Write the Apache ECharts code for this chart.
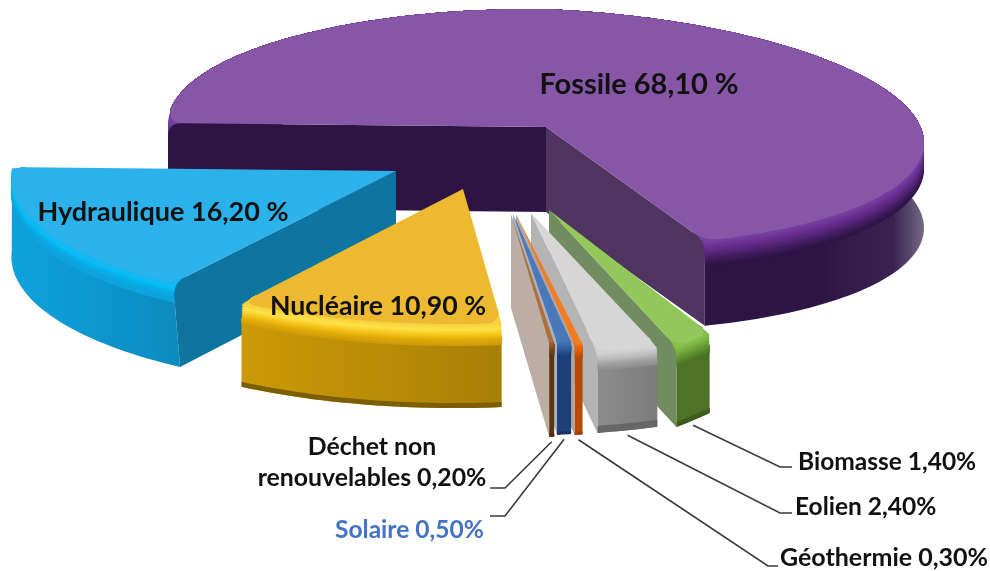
<!DOCTYPE html>
<html><head><meta charset="utf-8">
<style>html,body{margin:0;padding:0;background:#fff}#c{width:990px;height:571px}</style>
<script src="https://cdn.jsdelivr.net/npm/echarts@6/dist/echarts.min.js"></script>
</head><body><div id="c"></div>
<script>
// ---- data (pie order, clockwise from 9 o'clock) ----
var categories = ['Fossile','Biomasse','Eolien','Géothermie','Solaire','Déchet non renouvelables','Nucléaire','Hydraulique'];
var values = [68.1, 1.4, 2.4, 0.3, 0.5, 0.2, 10.9, 16.2];
var firstAngle = 270;

// ---- 3D look: each slice's exploded projection ----
var drawOrder = [0, 7, 6, 1, 2, 3, 4, 5];
var geometry = [
 {ax:546,ay:127,rx:378,ry:118,sx:0,  shL:4, shR:16, d:85,kx:0,    r:14},
 {ax:549,ay:210,rx:404,ry:181,sx:-10,shL:0, shR:-98,d:80,kx:0,    r:13},
 {ax:531,ay:213,rx:409,ry:143,sx:-13,shL:0, shR:-2, d:80,kx:0,    r:14},
 {ax:516,ay:214,rx:430,ry:133,sx:-17,shL:0, shR:0,  d:90,kx:0,    r:3},
 {ax:513,ay:214,rx:450,ry:130,sx:-21,shL:0, shR:0,  d:92,kx:0,    r:4},
 {ax:511,ay:214,rx:403,ry:130,sx:-15,shL:0, shR:0,  d:94,kx:0,    r:2},
 {ax:463,ay:189,rx:399,ry:135,sx:-14,shL:2, shR:2,  d:84,kx:0,    r:16},
 {ax:396,ay:171,rx:384,ry:134,sx:-25,shL:4, shR:4,  d:84,kx:.0625,r:14}
];
var looks = [
 {top:'#8856a7',band:['#7440a0','#6b2e92','#56257a','#3f1c5c','#2e1445'],bh:26,wall:['#2e1445','#2e1445','#2e1445','#3a2350','#766a88'],stops:[0,.5,.86,.96,1],radS:'#2e1445',radE:'#4f3560'},
 {top:'#92c85a',band:['#86c04c','#74aa3c','#5f8f30','#4d7228'],bh:20,wall:['#4d7228','#4d7228'],radE:'#718c5f',foot:'#3d5c1e',fh:5},
 {top:'#d6d6d6',band:['#d2d2d2','#bdbdbd','#a0a0a0','#8d8d8d'],bh:18,wall:['#8d8d8d','#7c7c7c'],radE:'#b4b4b4',foot:'#666',fh:7},
 {top:'#f47b20',band:['#ec6c10','#d85c08','#b84a04'],bh:14,wall:['#b84a04','#b84a04'],radE:'#a8a8a8',foot:'#a04004',fh:3},
 {top:'#4a78b8',band:['#4472b0','#2f5a9c','#1e4078'],bh:14,wall:['#1e4078','#1e4078'],radE:'#a8b4c4',foot:'#18345f',fh:3},
 {top:'#b06e38',band:['#9c5c28','#7c4418','#5e340e'],bh:14,wall:['#5e340e','#5e340e'],radE:'#bcaea4',foot:'#4c2a0a',fh:3},
 {top:'#ecb931',band:['#f7d23e','#fde24a','#f6c41a','#e0aa08','#cc9a08'],bh:22,wall:['#cc9a08','#a87f06'],foot:'#7c5e04',fh:5},
 {top:'#2cb2ea',band:['#1cb4ee','#08bdf8','#08aee8','#0ba5e0','#0fa2da'],bh:20,wall:['#0fa2da','#0c94cc','#0c8abb'],stops:[0,.6,1],radS:'#0e75a0'}
];
var labelLayout = [
 {lines:['Fossile 68,10 %'],x:639,y:85,size:29,align:'center'},
 {lines:['Biomasse 1,40%'],x:798,y:462,size:24.5,align:'left',elbow:[780,467],end:[792,467]},
 {lines:['Eolien 2,40%'],x:795,y:507,size:24.5,align:'left',elbow:[780,513],end:[792,513]},
 {lines:['Géothermie 0,30%'],x:780,y:558,size:25,align:'left',elbow:[768,566],end:[778,566]},
 {lines:['Solaire 0,50%'],x:484,y:530,size:24.6,align:'right',color:'#4472c4',elbow:[505,516],end:[490,516]},
 {lines:['Déchet non','renouvelables 0,20%'],x:372,y:478,size:24.8,align:'center',elbow:[505,488],end:[490,488]},
 {lines:['Nucléaire 10,90 %'],x:378,y:306,size:26.7,align:'center'},
 {lines:['Hydraulique 16,20 %'],x:163,y:212,size:27,align:'center'}
];

var total = values.reduce(function(a,b){return a+b;},0);
var spans = [], acc = firstAngle;
values.forEach(function(v){ var e = acc + v/total*360; spans.push([acc,e]); acc = e; });

function P(g,deg){
  var t = deg*Math.PI/180, u = Math.sin(t), v = -Math.cos(t);
  return [g.ax + g.rx*u + g.sx*v, g.ay + g.ry*v + (u<0?g.shL:g.shR)*u];
}
function off(g,p,y){
  return [p[0] + g.kx*(p[1]-g.ay)*y/g.d, p[1]+y];
}
function dist(a,b){return Math.hypot(a[0]-b[0],a[1]-b[1]);}
function lerp(a,b,t){return [a[0]+(b[0]-a[0])*t,a[1]+(b[1]-a[1])*t];}
function quad(a,c,b,n){var o=[];for(var i=0;i<=n;i++){var t=i/n;o.push(lerp(lerp(a,c,t),lerp(c,b,t),t));}return o;}

function sample(i){
  var g = geometry[i], s = spans[i], n = Math.max(4,Math.ceil((s[1]-s[0])/1.5)), rim=[];
  for(var k=0;k<=n;k++) rim.push(P(g,s[0]+(s[1]-s[0])*k/n));
  var len=0; for(k=1;k<rim.length;k++) len+=dist(rim[k],rim[k-1]);
  var r=Math.min(g.r,len*.42), apex=[g.ax,g.ay];
  function walk(list){ var acc=0; for(var j=1;j<list.length;j++){var d=dist(list[j],list[j-1]); if(acc+d>=r) return {p:lerp(list[j-1],list[j],(r-acc)/d),idx:j}; acc+=d;} return {p:list[list.length-1],idx:list.length-1}; }
  var w0=walk(rim), w1=walk(rim.slice().reverse());
  var mid=rim.slice(w0.idx,rim.length-w1.idx);
  var eS=lerp(rim[0],apex,r/dist(rim[0],apex)), eE=lerp(rim[n],apex,r/dist(rim[n],apex));
  var cS=quad(eS,rim[0],w0.p,6), cE=quad(w1.p,rim[n],eE,6);
  return {g:g,look:looks[i],span:s,apex:apex,sharp:rim,rim:cS.concat(mid,cE),eS:eS,eE:eE,r:r};
}
function poly(points,fill){return {type:'polygon',shape:{points:points},style:{fill:fill,stroke:null},silent:true};}
function strip(S,y1){
  var g=S.g, sh=S.sharp, h=Math.min(S.r,y1);
  return S.rim.concat([off(g,sh[sh.length-1],h)],
    sh.map(function(p){return off(g,p,y1);}).reverse(),
    [off(g,sh[0],h)]);
}
function foot(S,y0,y1){
  var g=S.g, a=S.sharp.map(function(p){return off(g,p,y0);}), b=S.sharp.map(function(p){return off(g,p,y1);}).reverse();
  return a.concat(b);
}
function radial(S,edge,corner){
  var g=S.g, low=off(g,corner,S.r), curve=quad(edge,corner,low,6);
  return [S.apex].concat(curve,[off(g,corner,g.d),off(g,S.apex,g.d)]);
}
function renderSlice(params,api){
  var i=api.value(0), S=sample(i), g=S.g, L=S.look, ch=[], sh=S.sharp;
  var st=L.stops||L.wall.map(function(_,k){return L.wall.length>1?k/(L.wall.length-1):0;});
  ch.push(poly(strip(S,g.d),{type:'linear',x:0,y:0,x2:1,y2:0,colorStops:L.wall.map(function(c,k){return {offset:st[k],color:c};})}));
  if(L.foot) ch.push(poly(foot(S,g.d-L.fh,g.d),L.foot));
  var N=14;
  for(var k=N;k>=1;k--) ch.push(poly(strip(S,L.bh*k/N),echarts.color.lerp((k-1)/(N-1),L.band)));
  var a0=((S.span[0]%360)+360)%360, a1=((S.span[1]%360)+360)%360;
  if(a0>=180 && L.radS) ch.push(poly(radial(S,S.eS,sh[0]),L.radS));
  if(a1<=180 && L.radE) ch.push(poly(radial(S,S.eE,sh[sh.length-1]),L.radE));
  ch.push(poly([S.apex].concat(S.rim),L.top));
  return {type:'group',children:ch};
}
function renderLabel(params,api){
  var i=api.value(0), g=geometry[i], L=labelLayout[i], ch=[], mid=(spans[i][0]+spans[i][1])/2;
  L.lines.forEach(function(t,k){
    ch.push({type:'text',silent:true,style:{text:t,x:L.x,y:L.y-(L.lines.length-1-k)*31,
      fill:L.color||'#111',font:'bold '+L.size+'px Lato, "Open Sans", sans-serif',
      textAlign:L.align,textVerticalAlign:'middle'}});
  });
  if(L.elbow){
    var a=off(g,P(g,mid),g.d); a=[a[0],a[1]+5];
    ch.push({type:'polyline',silent:true,shape:{points:[a,L.elbow,L.end]},style:{stroke:'#3a3a3a',lineWidth:1.6,fill:null}});
  }
  return {type:'group',children:ch};
}
var chart=echarts.init(document.getElementById('c'),null,{renderer:'canvas'});
chart.setOption({
  animation:false,backgroundColor:'#fff',tooltip:{show:false},
  series:[
    {type:'custom',coordinateSystem:'none',renderItem:renderSlice,silent:true,z:2,
     data:drawOrder.map(function(i){return [i,values[i]];})},
    {type:'custom',coordinateSystem:'none',renderItem:renderLabel,silent:true,z:3,
     data:categories.map(function(c,i){return {name:c,value:[i,values[i]]};})}
  ]
});
</script></body></html>
